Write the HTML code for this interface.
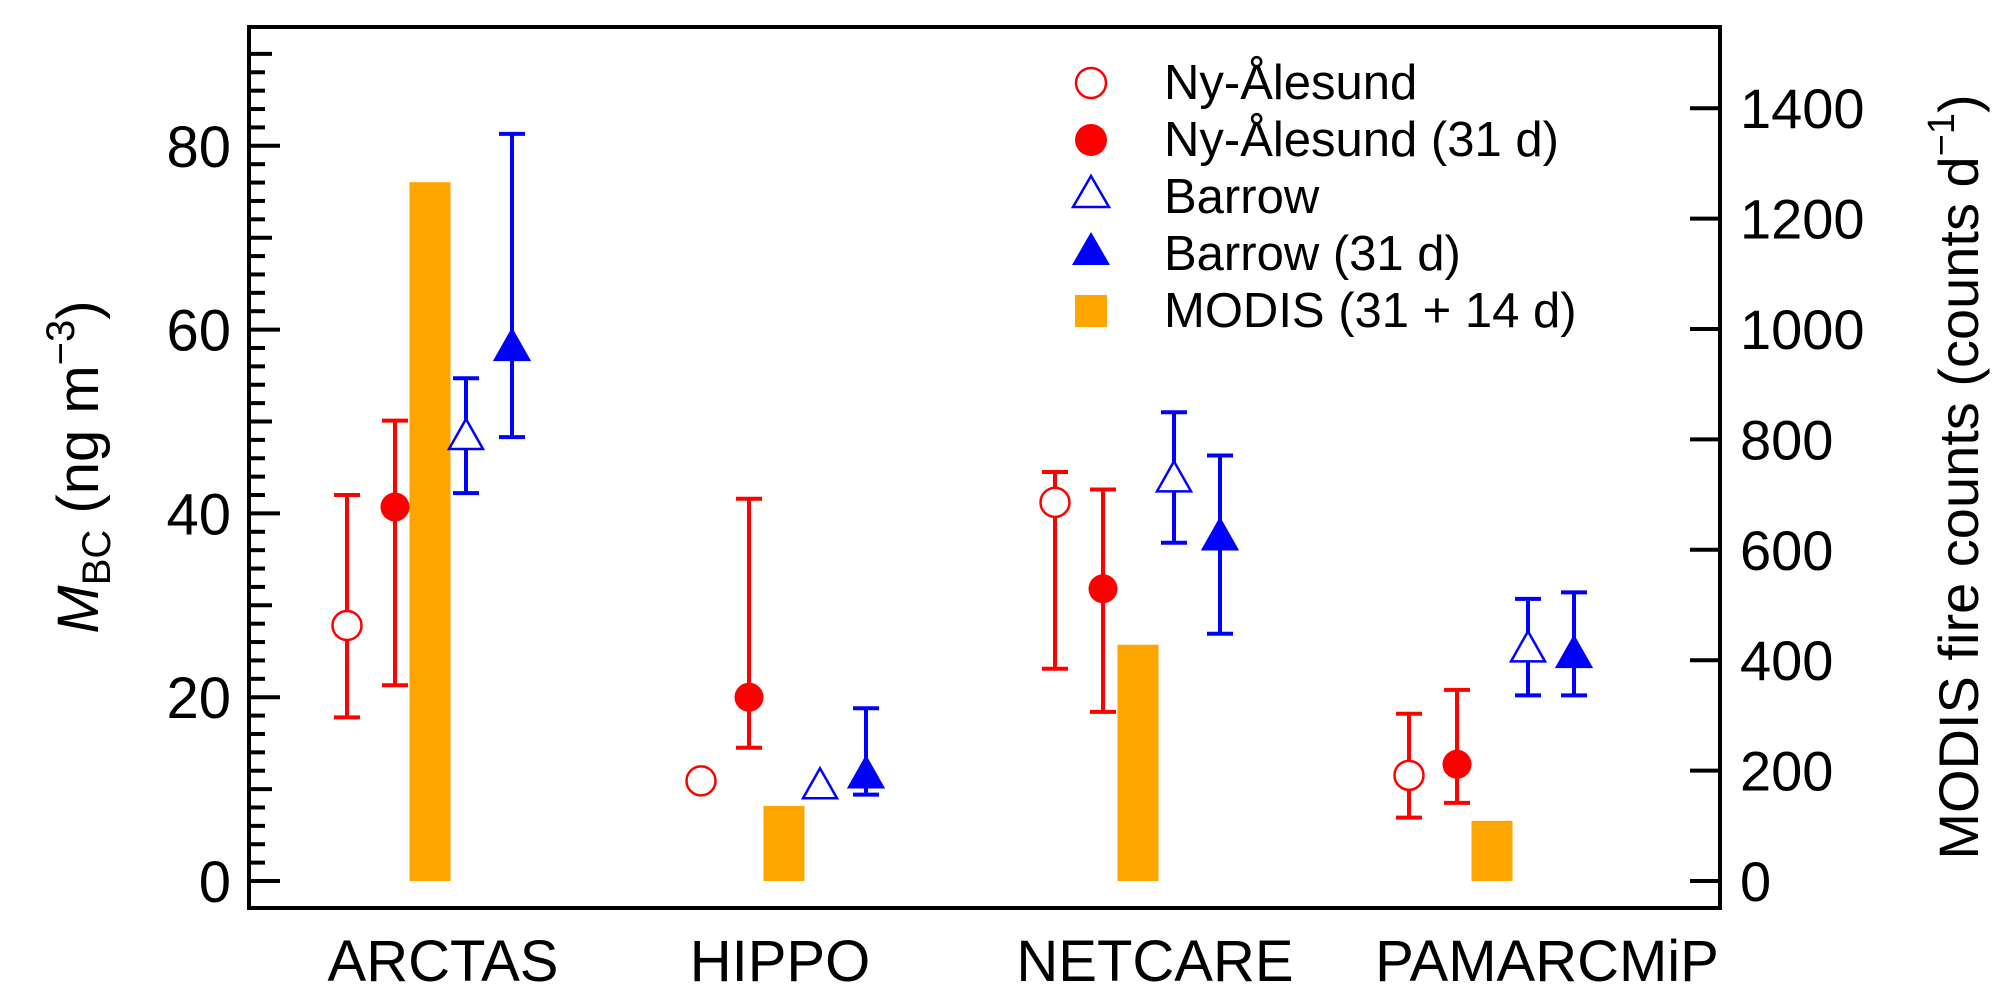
<!DOCTYPE html>
<html><head><meta charset="utf-8"><style>
html,body{margin:0;padding:0;background:#fff;}
svg{display:block;font-family:"Liberation Sans",Arial,sans-serif;}
</style></head><body>
<svg id="chart" width="2011" height="1004" viewBox="0 0 2011 1004">
<rect x="0" y="0" width="2011" height="1004" fill="#fff"/>
<g id="axes"></g>
<g id="marks"></g>
<g>
  <circle cx="1091" cy="83" r="15" fill="none" stroke="#f00" stroke-width="2.5"/>
  <text x="1164" y="99" font-size="49">Ny-Ålesund</text>
  <circle cx="1091" cy="140" r="16" fill="#f00"/>
  <text x="1164" y="156" font-size="49">Ny-Ålesund (31 d)</text>
  <polygon points="1091,176 1109,207 1073,207" fill="none" stroke="#00f" stroke-width="2.5"/>
  <text x="1164" y="213" font-size="49">Barrow</text>
  <polygon points="1091,232 1110,265 1072,265" fill="#00f"/>
  <text x="1164" y="270" font-size="49">Barrow (31 d)</text>
  <rect x="1075" y="295" width="32" height="32" fill="#ffa500"/>
  <text x="1164" y="327" font-size="49">MODIS (31 + 14 d)</text>
</g>
<text transform="translate(98,467) rotate(-90)" text-anchor="middle" font-size="58"><tspan font-style="italic">M</tspan><tspan font-size="40" dy="12">BC</tspan><tspan dy="-12"> (ng m</tspan><tspan font-size="40" dy="-24">−3</tspan><tspan dy="24">)</tspan></text>
<text transform="translate(1978,477) rotate(-90)" text-anchor="middle" font-size="56">MODIS fire counts (counts d<tspan font-size="38" dy="-24">−1</tspan><tspan dy="24">)</tspan></text>
</svg>
<script>
const categories = ["ARCTAS","HIPPO","NETCARE","PAMARCMiP"];
const nyVal   = [27.8, 10.9, 41.2, 11.5];
const nyLo    = [17.8, null, 23.1, 6.9];
const nyHi    = [42.0, null, 44.5, 18.2];
const ny31Val = [40.7, 20.0, 31.8, 12.7];
const ny31Lo  = [21.3, 14.5, 18.4, 8.5];
const ny31Hi  = [50.1, 41.6, 42.6, 20.8];
const brVal   = [48.2, 10.2, 43.6, 25.1];
const brLo    = [42.2, null, 36.8, 20.2];
const brHi    = [54.7, null, 51.0, 30.7];
const br31Val = [57.9, 11.4, 37.3, 24.5];
const br31Lo  = [48.3, 9.4, 26.9, 20.2];
const br31Hi  = [81.3, 18.8, 46.3, 31.4];
const modisCounts = [1266, 136, 428, 109];
const leftTicks = [0,20,40,60,80];
const rightTicks = [0,200,400,600,800,1000,1200,1400];
const catLabelX = [443, 780, 1155, 1547];

const NS = "http://www.w3.org/2000/svg";
const X0 = 249, X1 = 1720, YT = 27, YB = 908;
function yL(v){ return 881 - v * 9.19; }
function yR(v){ return 881 - v * (110.4/200); }
function xC(i){ return 430 + i * 354; }
function mk(tag, attrs, parent){ const e = document.createElementNS(NS, tag); for (const k in attrs) e.setAttribute(k, attrs[k]); parent.appendChild(e); return e; }

const axes = document.getElementById('axes');
const marks = document.getElementById('marks');

const frame = mk('rect', {x:X0, y:YT, width:X1-X0, height:YB-YT, fill:'none', stroke:'#000', 'stroke-width':4}, axes);



for (let v = 0; v <= 90; v += 2) {
  const len = (v % 20 === 0) ? 31 : (v % 10 === 0 ? 23 : 16);
  const t = mk('line', {x1:X0, x2:X0+len, y1:yL(v), y2:yL(v), stroke:'#000', 'stroke-width':4}, axes);
  
  
}
leftTicks.forEach(v => {
  const t = mk('text', {x:231, y:yL(v)+21, 'text-anchor':'end', 'font-size':58}, axes);
  t.textContent = v;
  
  
});
rightTicks.forEach(v => {
  const l = mk('line', {x1:X1-30, x2:X1, y1:yR(v), y2:yR(v), stroke:'#000', 'stroke-width':4}, axes);
  
  
  const t = mk('text', {x:1740, y:yR(v)+20, 'font-size':56}, axes);
  t.textContent = v;
  
  
});
categories.forEach((c, i) => {
  const t = mk('text', {x:catLabelX[i], y:981, 'text-anchor':'middle', 'font-size':58}, axes);
  t.textContent = c;
  
  
});

function errbar(x, lo, hi, color){
  if (lo === null) return;
  const g = mk('g', {stroke:color, 'stroke-width':4}, marks);
  
  
  mk('line', {x1:x, x2:x, y1:yL(lo), y2:yL(hi)}, g);
  mk('line', {x1:x-13, x2:x+13, y1:yL(lo), y2:yL(lo)}, g);
  mk('line', {x1:x-13, x2:x+13, y1:yL(hi), y2:yL(hi)}, g);
}
function tri(x, v, filled){
  const y = yL(v);
  const p = mk('polygon', {points:`${x},${y-19} ${x+17},${y+11} ${x-17},${y+11}`, fill: filled ? '#00f' : '#fff', stroke:'#00f', 'stroke-width':2.5}, marks);
  return p;
}
categories.forEach((c, i) => {
  const xc = xC(i);
  const bar = mk('rect', {x:xc-20.5, y:yR(modisCounts[i]), width:41, height:881-yR(modisCounts[i]), fill:'#ffa500'}, marks);
  
  

  errbar(xc-83, nyLo[i], nyHi[i], '#f00');
  const c1 = mk('circle', {cx:xc-83, cy:yL(nyVal[i]), r:14.5, fill:'#fff', stroke:'#f00', 'stroke-width':2.5}, marks);
  
  

  errbar(xc-35, ny31Lo[i], ny31Hi[i], '#f00');
  const c2 = mk('circle', {cx:xc-35, cy:yL(ny31Val[i]), r:14.5, fill:'#f00'}, marks);
  
  

  errbar(xc+36, brLo[i], brHi[i], '#00f');
  const t1 = tri(xc+36, brVal[i], false);
  
  

  errbar(xc+82, br31Lo[i], br31Hi[i], '#00f');
  const t2 = tri(xc+82, br31Val[i], true);
  
  
});
</script>
</body></html>
